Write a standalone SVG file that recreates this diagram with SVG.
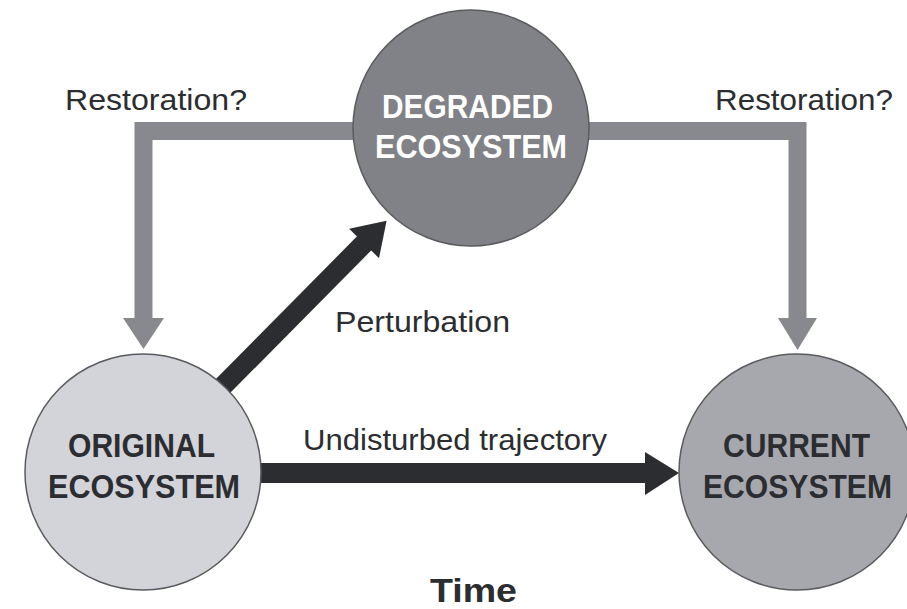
<svg xmlns="http://www.w3.org/2000/svg" width="907" height="609" viewBox="0 0 907 609">
<style>
.lbl{font-family:"Liberation Sans",Arial,sans-serif;font-size:30px;fill:#2b2d31}
.node{font-family:"Liberation Sans",Arial,sans-serif;font-size:33px;font-weight:bold}
.grey{fill:none;stroke:#88898e;stroke-width:18;stroke-linejoin:miter}
.greyhead{fill:#88898e}
.black{stroke:#2b2d31;stroke-width:20;fill:none}
.blackhead{fill:#2b2d31}
circle{stroke:#5a5b60;stroke-width:1.5}
</style>
<rect width="907" height="609" fill="#ffffff"/>
<g id="connectors">
  <path class="grey" d="M 362 131 H 143.5 V 320"/>
  <polygon class="greyhead" points="123,318 164,318 143.5,349"/>
  <path class="grey" d="M 580 131 H 797.5 V 320"/>
  <polygon class="greyhead" points="778,318 817,318 797.5,350"/>
  <line class="black" x1="250" y1="473" x2="647" y2="473"/>
  <polygon class="blackhead" points="645,452 645,495 679,473"/>
  <g transform="translate(222,387) rotate(-45.3)">
    <line class="black" x1="-30" y1="0" x2="205" y2="0"/>
    <polygon class="blackhead" points="202,-21 202,21 234,0"/>
  </g>
</g>
<g id="degraded">
  <circle cx="471" cy="128" r="118" fill="#818287"/>
  <text class="node" fill="#ffffff" x="382" y="118" textLength="171" lengthAdjust="spacingAndGlyphs">DEGRADED</text>
  <text class="node" fill="#ffffff" x="375" y="158" textLength="192" lengthAdjust="spacingAndGlyphs">ECOSYSTEM</text>
</g>
<g id="original">
  <circle cx="143" cy="472" r="118" fill="#d3d4da"/>
  <text class="node" fill="#2b2d31" x="68" y="457" textLength="147" lengthAdjust="spacingAndGlyphs">ORIGINAL</text>
  <text class="node" fill="#2b2d31" x="48" y="498" textLength="192" lengthAdjust="spacingAndGlyphs">ECOSYSTEM</text>
</g>
<g id="current">
  <circle cx="797" cy="472" r="118" fill="#a7a8ae"/>
  <text class="node" fill="#2b2d31" x="723" y="457" textLength="147" lengthAdjust="spacingAndGlyphs">CURRENT</text>
  <text class="node" fill="#2b2d31" x="703" y="498" textLength="189" lengthAdjust="spacingAndGlyphs">ECOSYSTEM</text>
</g>
<g id="labels">
  <text class="lbl" x="65" y="110" textLength="182" lengthAdjust="spacingAndGlyphs">Restoration?</text>
  <text class="lbl" x="715" y="110" textLength="178" lengthAdjust="spacingAndGlyphs">Restoration?</text>
  <text class="lbl" x="335" y="332" textLength="175" lengthAdjust="spacingAndGlyphs">Perturbation</text>
  <text class="lbl" x="303" y="450" textLength="304" lengthAdjust="spacingAndGlyphs">Undisturbed trajectory</text>
  <text class="node" fill="#2b2d31" x="430" y="602" textLength="87" lengthAdjust="spacingAndGlyphs">Time</text>
</g>
</svg>
